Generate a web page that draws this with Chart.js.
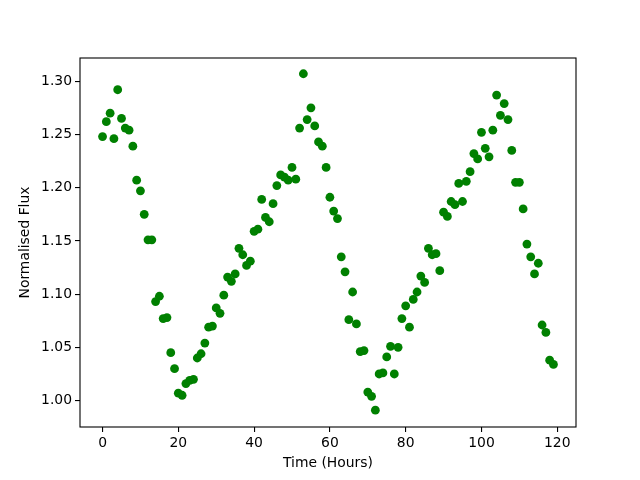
<!DOCTYPE html>
<html>
<head>
<meta charset="utf-8">
<script src="https://cdn.jsdelivr.net/npm/chart.js"></script>
<style>
  body { margin: 0; background: #fff; }
</style>
</head>
<body>
<canvas id="myChart" width="640" height="480"></canvas>
<script>
var hours = [];
for (var h = 0; h < 120; h++) hours.push(h);

var flux = [
    1.248, 1.262, 1.270, 1.246, 1.292, 1.265, 1.256, 1.254, 1.239, 1.207,
    1.197, 1.175, 1.151, 1.151, 1.093, 1.098, 1.077, 1.078, 1.045, 1.030,
    1.007, 1.005, 1.016, 1.019, 1.020, 1.040, 1.044, 1.054, 1.069, 1.070,
    1.087, 1.082, 1.099, 1.116, 1.112, 1.119, 1.143, 1.137, 1.127, 1.131,
    1.159, 1.161, 1.189, 1.172, 1.168, 1.185, 1.202, 1.212, 1.210, 1.207,
    1.219, 1.208, 1.256, 1.307, 1.264, 1.275, 1.258, 1.243, 1.239, 1.219,
    1.191, 1.178, 1.171, 1.135, 1.121, 1.076, 1.102, 1.072, 1.046, 1.047,
    1.008, 1.004, 0.991, 1.025, 1.026, 1.041, 1.051, 1.025, 1.050, 1.077,
    1.089, 1.069, 1.095, 1.102, 1.117, 1.111, 1.143, 1.137, 1.138, 1.122,
    1.177, 1.173, 1.187, 1.184, 1.204, 1.187, 1.206, 1.215, 1.232, 1.227,
    1.252, 1.237, 1.229, 1.254, 1.287, 1.268, 1.279, 1.264, 1.235, 1.205,
    1.205, 1.180, 1.147, 1.135, 1.119, 1.129, 1.071, 1.064, 1.038, 1.034
];

var xTicks = [0, 20, 40, 60, 80, 100, 120];
var yTicks = [1.00, 1.05, 1.10, 1.15, 1.20, 1.25, 1.30];

var font = { family: "'DejaVu Sans', sans-serif", size: 13.9 };

function setUpGraph() {
    var points = [];
    hours.forEach(function (t, i) {
        points.push({ x: t, y: flux[i] });
    });

    // matplotlib style frame round the plot area
    var framePlugin = {
        id: 'frame',
        afterDraw: function (chart) {
            var a = chart.chartArea;
            var ctx = chart.ctx;
            ctx.save();
            ctx.strokeStyle = '#000';
            ctx.lineWidth = 1.1;
            ctx.strokeRect(a.left, a.top, a.right - a.left, a.bottom - a.top);
            ctx.restore();
        }
    };

    var ctx = document.getElementById('myChart').getContext('2d');
    var myChart = new Chart(ctx, {
        type: 'scatter',
        data: {
            datasets: [{
                label: 'flux',
                data: points,
                backgroundColor: 'green',
                borderWidth: 0,
                pointRadius: 4.4
            }]
        },
        options: {
            responsive: false,
            animation: false,
            layout: { padding: { left: 0, top: 58, right: 64, bottom: 0 } },
            plugins: { legend: { display: false }, tooltip: { enabled: false } },
            scales: {
                x: {
                    type: 'linear',
                    min: -5.95,
                    max: 124.95,
                    afterBuildTicks: function (scale) {
                        scale.ticks = xTicks.map(function (v) { return { value: v }; });
                    },
                    afterFit: function (scale) { scale.height = 53; },
                    grid: { drawOnChartArea: false, drawTicks: true, tickLength: 5, color: '#000', lineWidth: 1.1 },
                    border: { display: false },
                    ticks: { color: '#000', font: font, padding: 3, maxRotation: 0 },
                    title: { display: true, text: 'Time (Hours)', color: '#000', font: font, padding: { top: 0, bottom: 8 } }
                },
                y: {
                    type: 'linear',
                    min: 0.9752,
                    max: 1.3218,
                    afterBuildTicks: function (scale) {
                        scale.ticks = yTicks.map(function (v) { return { value: v }; });
                    },
                    afterFit: function (scale) { scale.width = 80; },
                    grid: { drawOnChartArea: false, drawTicks: true, tickLength: 5, color: '#000', lineWidth: 1.1 },
                    border: { display: false },
                    ticks: {
                        color: '#000', font: font, padding: 3,
                        callback: function (v) { return Number(v).toFixed(2); }
                    },
                    title: { display: true, text: 'Normalised Flux', color: '#000', font: font, padding: { top: 17, bottom: 0 } }
                }
            }
        },
        plugins: [framePlugin]
    });
}

setUpGraph();
</script>
</body>
</html>
